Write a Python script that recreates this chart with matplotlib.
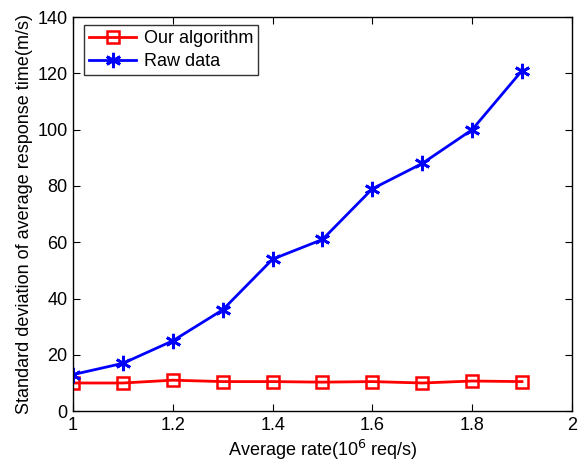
import matplotlib
matplotlib.use('Agg')
import matplotlib.pyplot as plt

plt.rcParams['font.family'] = ['Liberation Sans', 'DejaVu Sans']

rate = [1.0, 1.1, 1.2, 1.3, 1.4, 1.5, 1.6, 1.7, 1.8, 1.9]
ours = [10.0, 10.0, 11.0, 10.5, 10.5, 10.3, 10.5, 10.0, 10.7, 10.5]
raw = [13, 17, 25, 36, 54, 61, 79, 88, 100, 121]

fig = plt.figure(figsize=(5.8, 4.63), dpi=100)
ax = fig.add_axes([0.126, 0.112, 0.86, 0.851])

ax.plot(rate, ours, color='red', lw=2, marker='s', ms=9, mfc='none', mew=1.8, label='Our algorithm')
ax.plot(rate, raw, color='blue', lw=2, marker=(6, 2, 0), ms=11, mew=2, label='Raw data')

ax.set_xlim(1, 2)
ax.set_ylim(0, 140)
ax.set_xticks([1, 1.2, 1.4, 1.6, 1.8, 2])
ax.set_xticklabels(['1', '1.2', '1.4', '1.6', '1.8', '2'])
ax.set_yticks(range(0, 141, 20))
ax.tick_params(direction='in', top=True, right=True, labelsize=13, length=5, pad=4)
for s in ax.spines.values():
    s.set_linewidth(1)

ax.set_xlabel('Average rate(10$^6$ req/s)', fontsize=13, labelpad=3)
ax.set_ylabel('Standard deviation of average response time(m/s)', fontsize=13, labelpad=3)

leg = ax.legend(loc='upper left', fontsize=13, fancybox=False, edgecolor='black',
                handlelength=2.6, handletextpad=0.4, borderpad=0.3, labelspacing=0.3,
                borderaxespad=0, bbox_to_anchor=(0.022, 0.98))
leg.get_frame().set_linewidth(1)

fig.savefig('out.png', dpi=100)
